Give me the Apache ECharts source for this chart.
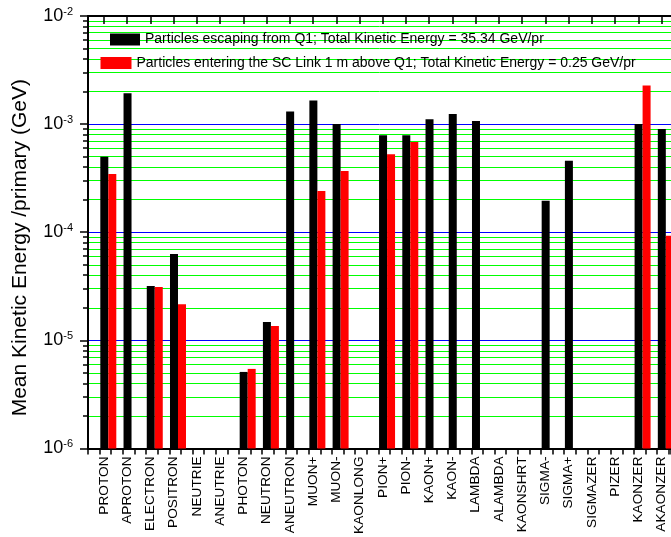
<!DOCTYPE html>
<html><head><meta charset="utf-8">
<script src="https://cdn.jsdelivr.net/npm/echarts@6/dist/echarts.min.js"></script>
<style>html,body{margin:0;padding:0;background:#fff}#c{width:671px;height:537px}</style>
</head><body><div id="c"></div>
<script>
// ---- data ----
const categories = ['PROTON','APROTON','ELECTRON','POSITRON','NEUTRIE','ANEUTRIE','PHOTON','NEUTRON','ANEUTRON','MUON+','MUON-','KAONLONG','PION+','PION-','KAON+','KAON-','LAMBDA','ALAMBDA','KAONSHRT','SIGMA-','SIGMA+','SIGMAZER','PIZER','KAONZER','AKAONZER'];
const escapingQ1 = [5.0e-4, 1.93e-3, 3.18e-5, 6.29e-5, null, null, 5.1e-6, 1.48e-5, 1.31e-3, 1.65e-3, 1.0e-3, null, 7.88e-4, 7.88e-4, 1.11e-3, 1.24e-3, 1.07e-3, null, null, 1.95e-4, 4.57e-4, null, null, 1.0e-3, 9.03e-4];
const enteringSCLink = [3.46e-4, null, 3.12e-5, 2.16e-5, null, null, 5.44e-6, 1.36e-5, null, 2.41e-4, 3.69e-4, null, 5.26e-4, 6.84e-4, null, null, null, null, null, null, null, null, null, 2.27e-3, 9.25e-5];
const seriesNames = [
  'Particles escaping from Q1; Total Kinetic Energy = 35.34 GeV/pr',
  'Particles entering the SC Link 1 m above Q1; Total Kinetic Energy = 0.25 GeV/pr'
];
const yTitle = 'Mean Kinetic Energy /primary (GeV)';
const yDecades = [-6, -5, -4, -3, -2];
const minorMultipliers = [2, 3, 4, 5, 6, 7, 8, 9];

// ---- derived ----
const minorVals = [];
yDecades.slice(0, -1).forEach(d => minorMultipliers.forEach(m => minorVals.push(m * Math.pow(10, d))));
const catIdx = categories.map((c, i) => i);
const FONT = '"Liberation Sans", Arial, sans-serif';
const yMin = Math.pow(10, yDecades[0]), yMax = Math.pow(10, yDecades[yDecades.length - 1]);

const chart = echarts.init(document.getElementById('c'), null, {renderer: 'canvas'});
chart.setOption({
  animation: false,
  backgroundColor: '#fff',
  textStyle: {fontFamily: FONT},
  grid: {left: 88, top: 16, right: 0, height: 432.5},
  legend: [
    {data: [seriesNames[0]], left: 105, top: 27.5, icon: 'rect', itemWidth: 30, itemHeight: 12,
     textStyle: {fontSize: 14, color: '#000', fontFamily: FONT}},
    {data: [seriesNames[1]], left: 95.5, top: 51, icon: 'rect', itemWidth: 31, itemHeight: 12,
     textStyle: {fontSize: 14, color: '#000', fontFamily: FONT}}
  ],
  xAxis: [
    {type: 'value', position: 'bottom', min: -0.689, max: 24.408, interval: 0.5,
     axisLine: {onZero: false, lineStyle: {color: '#000', width: 2}},
     axisTick: {length: 6, lineStyle: {color: '#000', width: 1.5}},
     axisLabel: {customValues: catIdx, formatter: v => categories[Math.round(v)], rotate: 90,
                 fontSize: 13.7, margin: 8, color: '#000', fontFamily: FONT},
     splitLine: {show: false}},
    {type: 'value', position: 'top', min: -0.689, max: 24.408,
     axisLine: {onZero: false, lineStyle: {color: '#000', width: 2}},
     axisTick: {inside: true, length: 8, customValues: catIdx, lineStyle: {color: '#000', width: 1.5}},
     axisLabel: {show: false}, splitLine: {show: false}},
    {type: 'value', min: -0.874, max: 24.223, show: false}
  ],
  yAxis: [
    {type: 'log', logBase: 10, min: yMin, max: yMax, startValue: yMin, position: 'left',
     name: yTitle, nameLocation: 'middle', nameGap: 57,
     nameTextStyle: {fontSize: 21, color: '#000', fontFamily: FONT, padding: [0, 31, 0, 0]},
     axisLine: {show: true, onZero: false, lineStyle: {color: '#000', width: 2}},
     axisTick: {show: true, length: 8, lineStyle: {color: '#000', width: 1.5}},
     axisLabel: {margin: 15, color: '#000',
       formatter: v => '{b|10}{s|' + Math.round(Math.log10(v)) + '}',
       rich: {b: {fontSize: 18, fontFamily: FONT, color: '#000'},
              s: {fontSize: 11, fontFamily: FONT, color: '#000', verticalAlign: 'top', padding: [0, 0, 8, 0]}}},
     splitLine: {show: true, lineStyle: {color: '#0000ff', width: 1}}},
    {type: 'log', logBase: 10, min: yMin, max: yMax, position: 'left',
     axisLine: {show: false, onZero: false}, axisLabel: {show: false},
     splitLine: {show: true, lineStyle: {color: '#00ff00', width: 1}},
     axisTick: {show: true, length: 5, customValues: minorVals, lineStyle: {color: '#000', width: 1.5}}}
  ],
  series: [
    {name: seriesNames[0], type: 'bar', xAxisIndex: 2, yAxisIndex: 0, barWidth: 8, barGap: '0%', z: 2,
     itemStyle: {color: '#000000'},
     data: escapingQ1.map((v, i) => [i, v])},
    {name: seriesNames[1], type: 'bar', xAxisIndex: 2, yAxisIndex: 0, barWidth: 8, barGap: '0%', z: 2,
     itemStyle: {color: '#ff0000'},
     data: enteringSCLink.map((v, i) => [i, v])}
  ]
});
</script></body></html>
